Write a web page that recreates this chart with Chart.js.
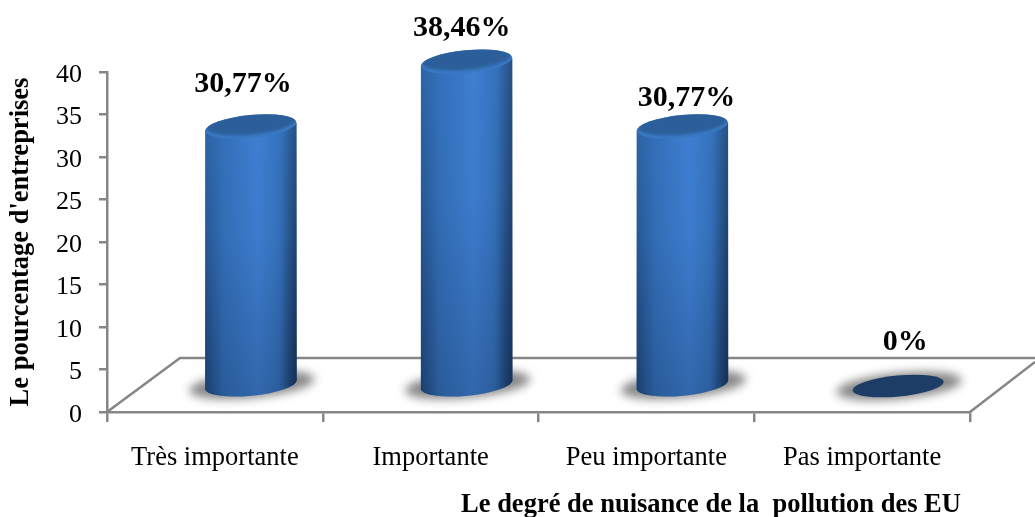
<!DOCTYPE html>
<html>
<head>
<meta charset="utf-8">
<style>
html,body{margin:0;padding:0;background:#fff}
#wrap{position:relative;width:1035px;height:517px}
</style>
<script src="https://cdn.jsdelivr.net/npm/chart.js@4/dist/chart.umd.min.js"></script>
</head>
<body>
<div id="wrap"><canvas id="c" width="1035" height="517"></canvas></div>
<script>
const categories = ['Très importante', 'Importante', 'Peu importante', 'Pas importante'];
const percentValues = [30.77, 38.46, 30.77, 0];
const yTicks = [0, 5, 10, 15, 20, 25, 30, 35, 40];
const yTitle = "Le pourcentage d'entreprises";
const xTitle = 'Le degré de nuisance de la  pollution des EU';

const SERIF = '"Liberation Serif", "Times New Roman", serif';
const AXIS = '#868686';
// hand placement of the value labels relative to each cylinder centre / top
const labelShift = [[-8, -42], [-5, -33], [4, -28], [7, -44]];

function percentLabel(v) { return String(v).replace('.', ',') + '%'; }

const TILT = -5.5 * Math.PI / 180;

function tiltedEllipsePath(ctx, x, y, rx, ry) {
  ctx.beginPath();
  ctx.ellipse(x, y, rx, ry, TILT, 0, Math.PI * 2);
}

function drawCylinder(ctx, x, topY, baseY, w) {
  const rx = w / 2, ry = 11.5, left = x - rx, right = x + rx;
  const drop = 3.5;

  // body: straight sides, rounded bottom
  ctx.save();
  ctx.beginPath();
  ctx.moveTo(left, topY + drop);
  ctx.lineTo(left, baseY + drop);
  ctx.ellipse(x, baseY, rx + 0.3, 11, TILT, Math.PI, 0, true);
  ctx.lineTo(right, topY - drop);
  ctx.closePath();
  ctx.clip();

  const side = ctx.createLinearGradient(left, 0, right, 0);
  side.addColorStop(0, '#2e68ad');
  side.addColorStop(0.25, '#3571bc');
  side.addColorStop(0.58, '#3e7fd2');
  side.addColorStop(0.84, '#3470ba');
  side.addColorStop(1, '#285385');
  ctx.fillStyle = side;
  ctx.fillRect(left - 2, topY - 20, w + 4, baseY - topY + 50);

  const shade = ctx.createLinearGradient(0, topY, 0, baseY + 11);
  shade.addColorStop(0, 'rgba(14,34,64,0)');
  shade.addColorStop(0.4, 'rgba(14,34,64,0.03)');
  shade.addColorStop(1, 'rgba(14,34,64,0.26)');
  ctx.fillStyle = shade;
  ctx.fillRect(left - 2, topY - 20, w + 4, baseY - topY + 50);

  // the sides darken progressively towards the foot of the column
  const edge = ctx.createLinearGradient(left, 0, right, 0);
  edge.addColorStop(0, 'rgba(10,30,62,0.42)');
  edge.addColorStop(0.2, 'rgba(10,30,62,0)');
  edge.addColorStop(0.8, 'rgba(10,30,62,0)');
  edge.addColorStop(1, 'rgba(10,30,62,0.6)');
  ctx.fillStyle = edge;
  const span = baseY + 11 + drop - topY;
  for (let row = 0; row < span; row++) {
    ctx.globalAlpha = 0.1 + 0.9 * (row / span);
    ctx.fillRect(left - 2, topY + row - drop, w + 4, 1);
  }
  ctx.restore();

  // bevelled cap: bright near rim fading into the darker face
  ctx.save();
  tiltedEllipsePath(ctx, x, topY, rx, ry);
  ctx.fillStyle = '#3a7ac6';
  ctx.fill();
  ctx.clip();
  ctx.filter = 'blur(1.5px)';
  tiltedEllipsePath(ctx, x, topY - 2.5, rx - 1, ry - 1);
  ctx.fillStyle = '#2c5f99';
  ctx.fill();
  ctx.restore();
}

function drawBaseShadow(ctx, x, y, rx) {
  ctx.save();
  ctx.filter = 'blur(5px)';
  tiltedEllipsePath(ctx, x + 1, y, rx + 17, 13);
  ctx.fillStyle = 'rgba(105,105,105,0.8)';
  ctx.fill();
  ctx.restore();
}

const nudged = new WeakSet();

const cylinderPlugin = {
  id: 'cylinders',
  beforeDraw(chart) {
    // value labels of the vertical axis sit slightly below their ticks
    const scale = chart.scales.y;
    if (!nudged.has(scale)) {
      nudged.add(scale);
      scale.getLabelItems().forEach(item => { item.textOffset += 3; });
    }
  },
  beforeDatasetsDraw(chart) {
    const { ctx, chartArea: a } = chart;
    // perspective floor behind the columns
    ctx.save();
    ctx.strokeStyle = AXIS;
    ctx.lineWidth = 2.5;
    ctx.beginPath();
    ctx.moveTo(a.left, a.bottom);
    ctx.lineTo(a.left + 73, a.bottom - 54);
    ctx.lineTo(chart.width, a.bottom - 54);
    ctx.moveTo(a.right, a.bottom);
    ctx.lineTo(chart.width, a.bottom - 50);
    ctx.stroke();
    ctx.restore();
  },
  afterDatasetsDraw(chart) {
    const { ctx } = chart;
    const meta = chart.getDatasetMeta(0);
    const depth = 26, heightScale = 0.992, skew = 36;
    meta.data.forEach((bar, i) => {
      const v = percentValues[i];
      const x = bar.x + skew;
      const baseY = bar.base - depth;
      const topY = baseY - (bar.base - bar.y) * heightScale;
      const rx = bar.width / 2;
      drawBaseShadow(ctx, x, baseY, rx);
      if (v > 0) {
        drawCylinder(ctx, x, topY, baseY, bar.width);
      } else {
        tiltedEllipsePath(ctx, x, baseY, rx, 10.5);
        ctx.fillStyle = '#1d3d66';
        ctx.fill();
      }
      ctx.save();
      ctx.font = 'bold 30px ' + SERIF;
      ctx.fillStyle = '#000';
      ctx.textAlign = 'center';
      ctx.textBaseline = 'middle';
      ctx.fillText(percentLabel(v), x + labelShift[i][0], topY + labelShift[i][1]);
      ctx.restore();
    });

    // horizontal axis caption sits towards the right of the plot
    ctx.save();
    ctx.font = 'bold 26.5px ' + SERIF;
    ctx.fillStyle = '#000';
    ctx.textAlign = 'center';
    ctx.textBaseline = 'middle';
    ctx.fillText(xTitle, 711, 505);
    ctx.restore();
  }
};

new Chart(document.getElementById('c'), {
  type: 'bar',
  data: {
    labels: categories,
    datasets: [{
      data: percentValues,
      backgroundColor: 'rgba(0,0,0,0)',
      borderWidth: 0,
      barPercentage: 0.424,
      categoryPercentage: 1
    }]
  },
  plugins: [cylinderPlugin],
  options: {
    responsive: false,
    animation: false,
    layout: { padding: { top: 72, right: 65, left: 0, bottom: 0 } },
    plugins: { legend: { display: false }, tooltip: { enabled: false }, title: { display: false } },
    scales: {
      x: {
        grid: { offset: true, drawOnChartArea: false, color: AXIS, lineWidth: 2.5, tickLength: 10 },
        border: { color: AXIS, width: 2.5 },
        ticks: { color: '#000', font: { family: SERIF, size: 26.5 }, padding: 20, maxRotation: 0 },
        afterFit(scale) { scale.height = 105; }
      },
      y: {
        min: 0,
        max: 40,
        afterBuildTicks(scale) { scale.ticks = yTicks.map(value => ({ value })); },
        grid: { drawOnChartArea: false, color: AXIS, lineWidth: 2.5, tickLength: 8 },
        border: { color: AXIS, width: 2.5 },
        ticks: { color: '#000', font: { family: SERIF, size: 26 }, padding: 17 },
        title: {
          display: true,
          text: yTitle,
          color: '#000',
          font: { family: SERIF, size: 26.5, weight: 'bold' },
          padding: { top: 5, bottom: 0 }
        },
        afterFit(scale) { scale.width = 107; }
      }
    }
  }
});
</script>
</body>
</html>
